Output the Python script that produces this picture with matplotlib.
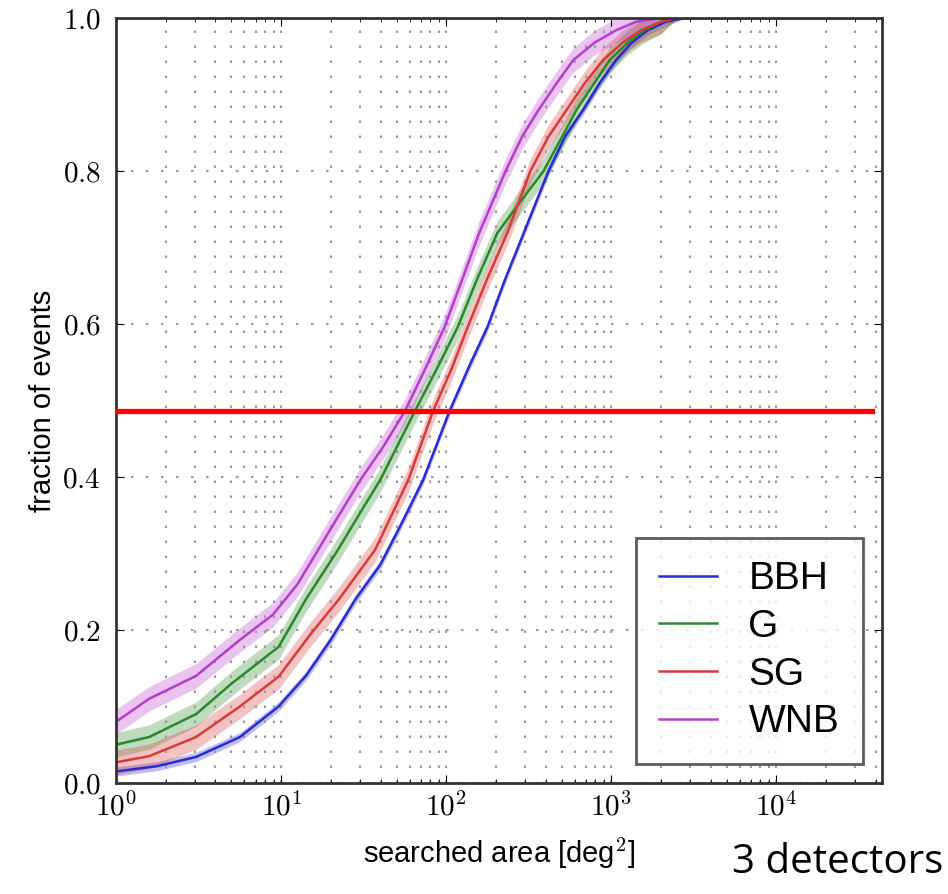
import numpy as np
import matplotlib
matplotlib.use('Agg')
import matplotlib.pyplot as plt
from matplotlib.ticker import FixedLocator, FuncFormatter, LogLocator, NullFormatter

plt.rcParams['mathtext.fontset'] = 'cm'

# datos: log10(area) y fraccion acumulada
bbh_lx = [0.0, 0.25, 0.485, 0.75, 0.985, 1.15, 1.30, 1.45, 1.60, 1.72, 1.86, 2.02, 2.14, 2.25, 2.36,
          2.47, 2.62, 2.72, 2.83, 2.93, 3.03, 3.12, 3.22, 3.33, 3.45, 4.64]
bbh_y = [0.015, 0.022, 0.034, 0.06, 0.10, 0.14, 0.187, 0.24, 0.285, 0.335, 0.396, 0.486, 0.545, 0.596, 0.66,
         0.719, 0.80, 0.845, 0.88, 0.915, 0.945, 0.967, 0.984, 0.995, 1.0, 1.0]

g_lx = [0.0, 0.2, 0.485, 0.70, 0.985, 1.15, 1.345, 1.47, 1.60, 1.81, 1.94, 2.07, 2.19, 2.31, 2.45,
        2.59, 2.79, 2.99, 3.10, 3.20, 3.30, 3.40, 4.64]
g_y = [0.05, 0.06, 0.09, 0.13, 0.178, 0.24, 0.305, 0.35, 0.396, 0.486, 0.54, 0.596, 0.66, 0.719, 0.76,
       0.80, 0.88, 0.945, 0.968, 0.984, 0.995, 1.0, 1.0]

sg_lx = [0.0, 0.2, 0.485, 0.75, 0.985, 1.18, 1.35, 1.57, 1.77, 1.92, 2.03, 2.13, 2.25, 2.37, 2.51,
         2.62, 2.73, 2.84, 2.95, 3.07, 3.18, 3.30, 3.40, 4.64]
sg_y = [0.027, 0.035, 0.06, 0.10, 0.139, 0.195, 0.24, 0.305, 0.396, 0.486, 0.54, 0.596, 0.66, 0.719, 0.80,
        0.845, 0.88, 0.915, 0.945, 0.968, 0.984, 0.995, 1.0, 1.0]

wnb_lx = [0.0, 0.2, 0.485, 0.75, 0.95, 1.10, 1.225, 1.35, 1.48, 1.62, 1.75, 1.87, 1.99, 2.10, 2.20,
          2.36, 2.46, 2.56, 2.67, 2.77, 2.90, 3.03, 3.15, 3.30, 4.64]
wnb_y = [0.08, 0.11, 0.14, 0.187, 0.22, 0.26, 0.305, 0.35, 0.396, 0.44, 0.486, 0.54, 0.596, 0.66, 0.719,
         0.80, 0.845, 0.88, 0.915, 0.945, 0.968, 0.984, 0.995, 1.0, 1.0]

etiquetas = ['BBH', 'G', 'SG', 'WNB']
colores = ['#2a2ad0', '#2a8a2a', '#d83a3a', '#b53ccc']
bandas = [0.006, 0.016, 0.016, 0.016]

linea_media = 0.486

fig = plt.figure(figsize=(9.48, 8.94), dpi=100)
ax = fig.add_axes([0.1224, 0.1242, 0.808, 0.8557])

series = [(bbh_lx, bbh_y), (g_lx, g_y), (sg_lx, sg_y), (wnb_lx, wnb_y)]
for (lx, y), lab, c, b in zip(series, etiquetas, colores, bandas):
    x = 10 ** np.array(lx)
    y = np.array(y)
    abajo = np.where(y >= 1, 1, np.clip(y - b, 0, 1))
    arriba = np.clip(y + b, 0, 1)
    ax.fill_between(x, abajo, arriba, color=c, alpha=0.3, lw=0)
    ax.plot(x, y, color=c, lw=1.8, label=lab)

ax.set_xscale('log')
ax.set_xlim(1, 10 ** 4.64)
ax.set_ylim(0, 1)

ax.xaxis.set_major_locator(LogLocator(base=10, numticks=10))
ax.xaxis.set_minor_locator(LogLocator(base=10, subs=np.arange(2, 10), numticks=20))
ax.xaxis.set_minor_formatter(NullFormatter())
ax.xaxis.set_major_formatter(FuncFormatter(lambda v, p: r'$10^{%d}$' % round(np.log10(v))))
ax.yaxis.set_major_locator(FixedLocator([0.0, 0.2, 0.4, 0.6, 0.8, 1.0]))
ax.yaxis.set_major_formatter(FuncFormatter(lambda v, p: r'$%.1f$' % v))

ax.tick_params(axis='both', which='both', direction='in', top=True, right=True)
ax.tick_params(axis='both', which='major', labelsize=21, length=6)
ax.tick_params(axis='x', which='major', pad=7)
ax.tick_params(axis='y', which='major', pad=11)
ax.tick_params(axis='both', which='minor', length=3)

punteado = (0, (1.2, 6))
ax.grid(True, which='major', color='#999999', linestyle=punteado, lw=1.5)
ax.grid(True, which='minor', axis='x', color='#999999', linestyle=punteado, lw=1.5)

for s in ax.spines.values():
    s.set_linewidth(2)
    s.set_color('#333333')

ax.set_xlabel(r'searched area [deg$^\mathsf{2}$]', fontsize=21, family='Liberation Sans', labelpad=10)
ax.set_ylabel('fraction of events', fontsize=21, family='Liberation Sans', labelpad=4)

leg = ax.legend(loc='lower right', frameon=True, fancybox=False,
                handlelength=1.5, handletextpad=0.8, borderpad=0.6, labelspacing=0.3,
                borderaxespad=0.5, prop={'family': 'Liberation Sans', 'size': 28})
leg.get_frame().set_edgecolor('#333333')
leg.get_frame().set_linewidth(2)

# linea roja del 50%
ax.axhline(linea_media, xmin=0.0, xmax=0.987, color='#ff0000', lw=3.8, zorder=5)

fig.text(0.995, 0.012, '3 detectors', fontsize=29, family='Open Sans', ha='right', va='bottom')

plt.savefig('out.png', dpi=100)
